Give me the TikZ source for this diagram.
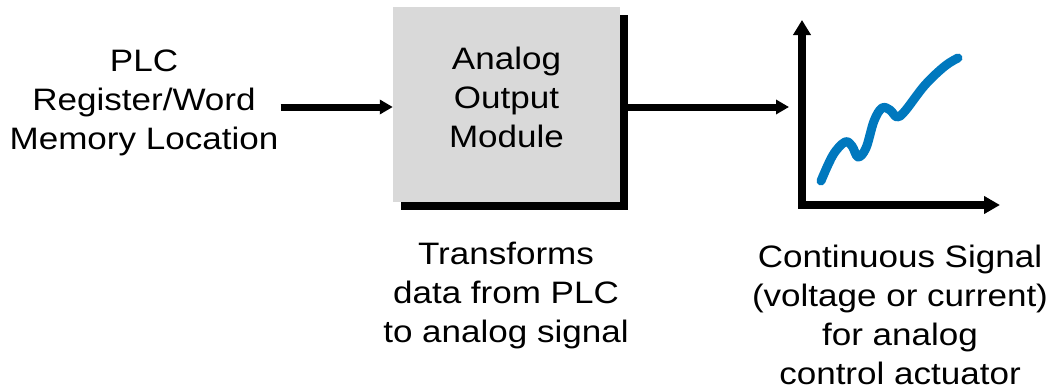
\documentclass[tikz,border=0pt]{standalone}
\usepackage{fontspec}
\setmainfont{Liberation Sans}[FakeStretch=1.13]
\usetikzlibrary{arrows.meta,shadows}
\definecolor{signalblue}{RGB}{0,120,190}
\definecolor{boxgray}{RGB}{217,217,217}
\tikzset{
  txt/.style={align=center, inner sep=0pt, anchor=north,
    font=\fontsize{31}{39}\selectfont},
  module/.style={fill=boxgray, inner sep=0pt,
    minimum width=227pt, minimum height=195pt,
    drop shadow={shadow xshift=8pt, shadow yshift=-8pt, opacity=1, fill=black}},
  flow/.style={line width=7pt, -{Triangle[length=13pt,width=14pt]}},
  axis/.style={line width=8.5pt, line join=miter,
    {Triangle[length=15pt,width=17pt]}-{Triangle[length=16pt,width=17pt]}},
  signal/.style={line width=9pt, signalblue, line cap=round, line join=round}
}
\begin{document}
\begin{tikzpicture}[x=1pt,y=-1pt]
  \useasboundingbox (0,0) rectangle (1053,391);

  % module block with its drop shadow
  \node[module] (aom) at (506.5,104.5) {};
  \node[txt] (aomtext) at ([yshift=-40pt]aom.north) {Analog\\Output\\Module};

  % input description and its arrow into the module
  \node[txt] (plc) at (144,50) {PLC\\Register/Word\\Memory Location};
  \draw[flow] ([yshift=-2.5pt]aom.west -| plc.east) ++(2,0) -- ([yshift=-2.5pt]aom.west);

  % signal plot axes
  \coordinate (ytop) at (802,20);
  \coordinate (origin) at (802,205);
  \coordinate (xend) at (1000,205);
  \draw[axis] (ytop) -- (origin) -- (xend);

  % output arrow from the module to the plot
  \coordinate (plotin) at (789,107);
  \draw[flow] ([yshift=-2.5pt]aom.east) -- (plotin);

  % continuous output signal
  \draw[signal] plot[smooth, tension=0.6] coordinates {
    (821,181) (833,155) (845,142) (852,146) (858,157) (866,148)
    (874,121) (882,108) (890,110) (897,117) (905,111) (925,85)
    (945,66) (958,58)};

  % captions
  \node[txt] (xform) at (506,242) {Transforms\\data from PLC\\to analog signal};
  \node[txt] (cont) at (900,245) {Continuous Signal\\(voltage or current)\\for analog\\control actuator};
\end{tikzpicture}
\end{document}
